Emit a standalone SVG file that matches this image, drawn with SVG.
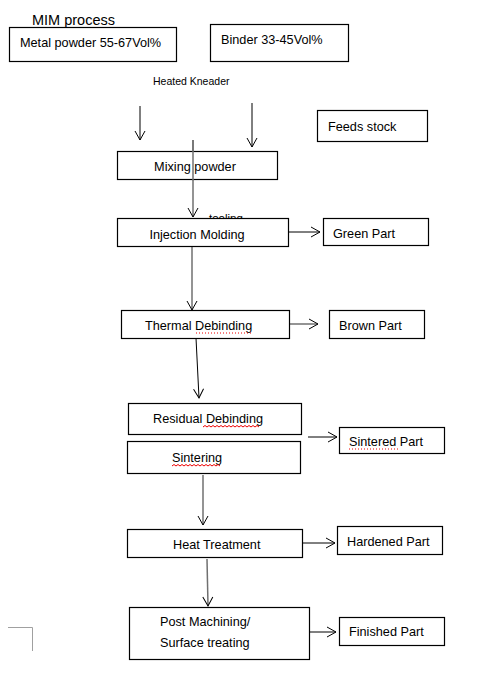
<svg xmlns="http://www.w3.org/2000/svg" width="501" height="674" viewBox="0 0 501 674">
<defs>
<marker id="ah" markerWidth="12" markerHeight="12" refX="10" refY="6" orient="auto" markerUnits="userSpaceOnUse">
<path d="M1,1 L10,6 L1,11" fill="none" stroke="#000" stroke-width="1"/>
</marker>
<style>
.box{fill:#fff;stroke:#000;stroke-width:1.2}
text{font-family:"Liberation Sans",Arial,sans-serif;font-size:12.7px;fill:#000}
.c{fill:none;stroke:#000;stroke-width:1;marker-end:url(#ah)}
.g{fill:none;stroke:#707070;stroke-width:1.5;marker-end:url(#ah)}
.sq{fill:none;stroke:#e00;stroke-width:1}
.dt{fill:none;stroke:#e00;stroke-width:1;stroke-dasharray:1,2}
</style>
</defs>
<rect width="501" height="674" fill="#fff"/>
<text x="32" y="25" style="font-size:14.5px">MIM process</text>
<text x="153" y="85" style="font-size:10.5px">Heated Kneader</text>
<text x="209" y="222" style="font-size:11.5px">tooling</text>

<g id="connectors">
<line class="c" x1="140" y1="106" x2="140" y2="140"/>
<line class="c" x1="252" y1="103" x2="252" y2="147"/>
<line class="g" x1="193" y1="140" x2="193" y2="217"/>
<line class="c" x1="288" y1="232" x2="320" y2="232"/>
<line class="g" x1="192" y1="247" x2="192" y2="310"/>
<line class="g" x1="289" y1="324" x2="318" y2="324"/>
<line class="c" x1="196" y1="338" x2="199" y2="398"/>
<line class="c" x1="308" y1="437" x2="337" y2="437"/>
<line class="g" x1="203" y1="475" x2="203" y2="525"/>
<line class="c" x1="302" y1="543" x2="335" y2="543"/>
<line class="g" x1="207" y1="559" x2="208" y2="606"/>
<line class="c" x1="309" y1="632" x2="336" y2="632"/>
</g>

<g id="metal"><rect class="box" x="9.5" y="27.5" width="167" height="34"/><text x="20" y="47">Metal powder 55-67Vol%</text></g>
<g id="binder"><rect class="box" x="210.5" y="24.5" width="138" height="37"/><text x="221" y="44">Binder 33-45Vol%</text></g>
<g id="feeds"><rect class="box" x="317.5" y="110.5" width="110" height="31"/><text x="328" y="131">Feeds stock</text></g>
<g id="mixing"><rect class="box" x="117.5" y="151.5" width="160" height="28"/><text x="195" y="171" text-anchor="middle">Mixing powder</text></g>
<line x1="193" y1="140" x2="193" y2="180" stroke="#707070" stroke-width="1.5"/>
<g id="injection"><rect class="box" x="117.5" y="218.5" width="171" height="28"/><text x="197" y="239" text-anchor="middle">Injection Molding</text></g>
<g id="green"><rect class="box" x="323.5" y="218.5" width="105" height="27"/><text x="333" y="238">Green Part</text></g>
<g id="thermal"><rect class="box" x="121.5" y="310.5" width="168" height="28"/><text x="145" y="330">Thermal Debinding</text><line class="dt" x1="196" y1="333" x2="252" y2="333"/></g>
<g id="brown"><rect class="box" x="329.5" y="310.5" width="95" height="28"/><text x="339" y="330">Brown Part</text></g>
<g id="residual"><rect class="box" x="128.5" y="403.5" width="173" height="31"/><text x="153" y="423">Residual Debinding</text><path class="sq" d="M203,427 l2,-1.5 l2,1.5 l2,-1.5 l2,1.5 l2,-1.5 l2,1.5 l2,-1.5 l2,1.5 l2,-1.5 l2,1.5 l2,-1.5 l2,1.5 l2,-1.5 l2,1.5 l2,-1.5 l2,1.5 l2,-1.5 l2,1.5 l2,-1.5 l2,1.5 l2,-1.5 l2,1.5 l2,-1.5 l2,1.5 l2,-1.5 l2,1.5 l2,-1.5 l2,1.5"/></g>
<g id="sintering"><rect class="box" x="127.5" y="441.5" width="173" height="32"/><text x="172" y="462">Sintering</text><path class="sq" d="M172,466 l2,-1.5 l2,1.5 l2,-1.5 l2,1.5 l2,-1.5 l2,1.5 l2,-1.5 l2,1.5 l2,-1.5 l2,1.5 l2,-1.5 l2,1.5 l2,-1.5 l2,1.5 l2,-1.5 l2,1.5 l2,-1.5 l2,1.5 l2,-1.5 l2,1.5 l2,-1.5 l2,1.5 l2,-1.5 l2,1.5"/></g>
<g id="sintered"><rect class="box" x="339.5" y="427.5" width="105" height="26"/><text x="349" y="446">Sintered Part</text><line class="dt" x1="349" y1="449" x2="398" y2="449"/></g>
<g id="heat"><rect class="box" x="127.5" y="529.5" width="175" height="28"/><text x="173" y="549">Heat Treatment</text></g>
<g id="hardened"><rect class="box" x="337.5" y="526.5" width="105" height="28"/><text x="347" y="546">Hardened Part</text></g>
<g id="post"><rect class="box" x="129.5" y="607.5" width="180" height="52"/><text x="160" y="626">Post Machining/</text><text x="160" y="647">Surface treating</text></g>
<g id="finished"><rect class="box" x="339.5" y="617.5" width="105" height="28"/><text x="349" y="636">Finished Part</text></g>
<path d="M8,627.5 H32.5 V651" fill="none" stroke="#a0a0a0" stroke-width="1"/>
</svg>
